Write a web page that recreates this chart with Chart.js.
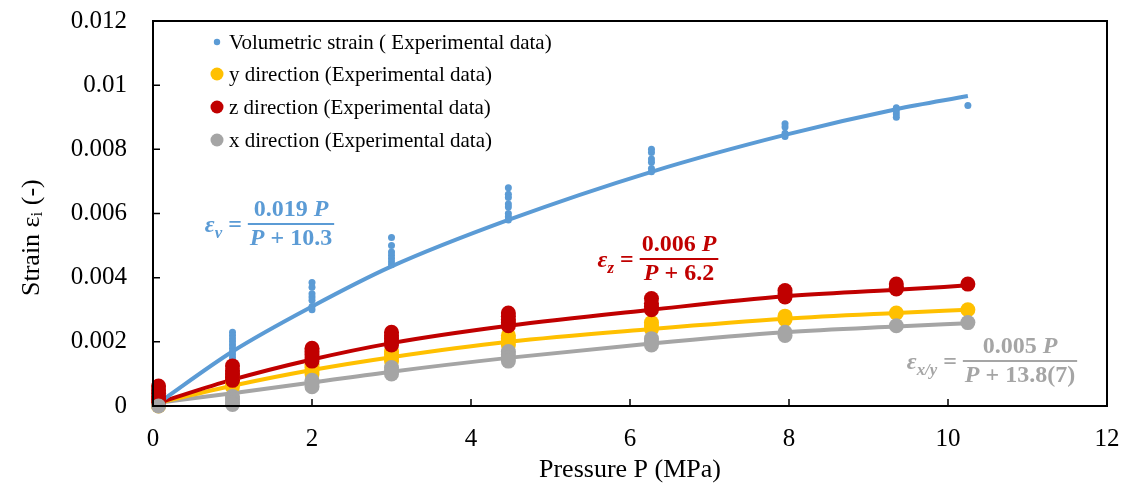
<!DOCTYPE html>
<html><head><meta charset="utf-8">
<script src="https://cdn.jsdelivr.net/npm/chart.js@4.4.1/dist/chart.umd.min.js"></script>
<style>html,body{margin:0;padding:0;background:#fff;}#wrap{width:1128px;height:490px;}</style>
</head><body><div id="wrap"><canvas id="c" width="1128" height="490"></canvas></div>
<script>
// ---- data ----
const xTicks = [0, 2, 4, 6, 8, 10, 12];
const yTicks = [0, 0.002, 0.004, 0.006, 0.008, 0.01, 0.012];

const seriesNames = ['Volumetric strain ( Experimental data)', 'y direction (Experimental data)', 'z direction (Experimental data)', 'x direction (Experimental data)'];
const seriesColors = ['#5B9BD5', '#FFC000', '#C00000', '#A5A5A5'];

const volP = [0.07, 1,1,1,1,1,1,1,1,1, 2,2,2,2,2,2,2, 3,3,3,3,3,3,3, 4.47,4.47,4.47,4.47,4.47,4.47,4.47,4.47, 6.27,6.27,6.27,6.27,6.27,6.27, 7.95,7.95,7.95,7.95, 9.35,9.35,9.35,9.35, 10.25];
const volStrain = [0.0001, 0.0023,0.0022,0.0021,0.002,0.0019,0.0018,0.0017,0.0016,0.0015, 0.00385,0.0037,0.0035,0.0034,0.0033,0.0031,0.003, 0.00525,0.005,0.0048,0.0047,0.0046,0.0045,0.0044, 0.0068,0.0066,0.0065,0.0063,0.0062,0.006,0.0059,0.0058, 0.008,0.0079,0.0077,0.0076,0.0074,0.0073, 0.0088,0.0087,0.0085,0.0084, 0.0093,0.0092,0.0091,0.009, 0.00937];

const yP = [0.07,0.07, 1,1,1,1, 2,2,2,2, 3,3,3,3, 4.47,4.47,4.47,4.47, 6.27,6.27,6.27, 7.95,7.95, 9.35, 10.25];
const yStrain = [0.0001,0, 0.0009,0.0008,0.0007,0.0006, 0.0013,0.0012,0.0011,0.001, 0.0017,0.0016,0.0015,0.0014, 0.0022,0.0021,0.002,0.0019, 0.0026,0.0025,0.0024, 0.0028,0.0027, 0.0029, 0.003];

const zP = [0.07,0.07,0.07,0.07,0.07,0.07, 1,1,1,1,1, 2,2,2,2,2, 3,3,3,3,3, 4.47,4.47,4.47,4.47,4.47, 6.27,6.27,6.27,6.27, 7.95,7.95,7.95, 9.35,9.35,9.35, 10.25];
const zStrain = [0.00062,0.0005,0.0004,0.0003,0.0002,0.0001, 0.00125,0.0011,0.001,0.0009,0.0008, 0.0018,0.0017,0.0016,0.0015,0.0014, 0.0023,0.0022,0.0021,0.002,0.0019, 0.0029,0.0028,0.0027,0.0026,0.0025, 0.00335,0.0032,0.0031,0.003, 0.0036,0.0035,0.0034, 0.0038,0.0037,0.00365, 0.0038];

const xP = [0.07, 1,1,1,1, 2,2,2, 3,3,3, 4.47,4.47,4.47,4.47, 6.27,6.27,6.27, 7.95,7.95, 9.35, 10.25];
const xStrain = [0, 0.0003,0.0002,0.0001,0.00005, 0.0008,0.0007,0.0006, 0.0012,0.0011,0.001, 0.0017,0.0016,0.0015,0.0014, 0.0021,0.002,0.0019, 0.0023,0.0022, 0.0025, 0.0026];

// fitted curves, values
const fitP = [0.07, 1, 2, 3, 4.47, 6.27, 7.95, 9.35, 10.25];
const fitVol = [0.0001, 0.0017, 0.0031, 0.00435, 0.0058, 0.0073, 0.00845, 0.00925, 0.00966];
const fitY = [0.0001, 0.00063, 0.00112, 0.00152, 0.002, 0.0024, 0.00272, 0.0029, 0.003];
const fitZ = [0.0001, 0.00082, 0.00145, 0.00196, 0.0025, 0.003, 0.00342, 0.00362, 0.00376];
const fitX = [0.0001, 0.0004, 0.00073, 0.00107, 0.0015, 0.00195, 0.0023, 0.00248, 0.00258];

// ---- helpers ----
const pts = (xs, ys) => xs.map((x, i) => ({x: x, y: ys[i]}));
const SERIF = "'Liberation Serif', 'Times New Roman', serif";

function scatterSet(i, xs, ys, r, order) {
  return {type: 'scatter', label: seriesNames[i], data: pts(xs, ys), backgroundColor: seriesColors[i],
    borderWidth: 0, pointRadius: r, pointHoverRadius: r, order: order, clip: false, markerR: r};
}
function lineSet(i, ys, order) {
  return {type: 'line', label: 'fit ' + i, data: pts(fitP, ys), borderColor: seriesColors[i], borderWidth: 4,
    pointRadius: 0, showLine: true, fill: false, cubicInterpolationMode: 'monotone', order: order, clip: false};
}

const datasets = [
  scatterSet(3, xP, xStrain, 7.5, 0),
  scatterSet(2, zP, zStrain, 7.5, 1),
  scatterSet(1, yP, yStrain, 7.5, 2),
  scatterSet(0, volP, volStrain, 3.5, 3),
  lineSet(0, fitVol, 4),
  lineSet(2, fitZ, 5),
  lineSet(1, fitY, 6),
  lineSet(3, fitX, 7)
];

function runWidth(ctx, runs, size) {
  let w = 0;
  runs.forEach(r => { ctx.font = (r.it ? 'italic ' : '') + 'bold ' + (r.sub ? size * 0.7 : size) + 'px ' + SERIF; w += ctx.measureText(r.t).width; });
  return w;
}
function drawRuns(ctx, runs, x, y, size) {
  ctx.textBaseline = 'middle'; ctx.textAlign = 'left';
  runs.forEach(r => {
    ctx.font = (r.it ? 'italic ' : '') + 'bold ' + (r.sub ? size * 0.7 : size) + 'px ' + SERIF;
    ctx.fillText(r.t, x, r.sub ? y + size * 0.3 : y);
    x += ctx.measureText(r.t).width;
  });
}
function drawEq(ctx, cx, cy, lhs, num, den, color, size) {
  ctx.save();
  ctx.fillStyle = color; ctx.strokeStyle = color;
  const wn = runWidth(ctx, num, size), wd = runWidth(ctx, den, size);
  const w = Math.max(wn, wd) + 4;
  ctx.lineWidth = 2;
  ctx.beginPath(); ctx.moveTo(cx - w / 2, cy); ctx.lineTo(cx + w / 2, cy); ctx.stroke();
  drawRuns(ctx, num, cx - wn / 2, cy - size * 0.6, size);
  drawRuns(ctx, den, cx - wd / 2, cy + size * 0.62, size);
  const wl = runWidth(ctx, lhs, size);
  drawRuns(ctx, lhs, cx - w / 2 - 6 - wl, cy + 2, size);
  ctx.restore();
}

const decor = {
  id: 'decor',
  afterDatasetsDraw(chart) {
    const {ctx, chartArea: a, scales: {x, y}} = chart;
    ctx.save();
    ctx.strokeStyle = '#000'; ctx.lineWidth = 2;
    ctx.strokeRect(a.left, a.top, a.right - a.left, a.bottom - a.top);
    ctx.lineWidth = 1.5;
    ctx.beginPath();
    xTicks.forEach(v => { const p = x.getPixelForValue(v); ctx.moveTo(p, a.bottom); ctx.lineTo(p, a.bottom - 7); });
    yTicks.forEach(v => { const p = y.getPixelForValue(v); ctx.moveTo(a.left, p); ctx.lineTo(a.left + 7, p); });
    ctx.stroke();

    const order = [3, 2, 1, 0];
    const rowY = [42, 74, 107, 140];
    order.forEach((di, k) => {
      const ds = chart.data.datasets[di];
      ctx.fillStyle = ds.backgroundColor;
      ctx.beginPath(); ctx.arc(217, rowY[k], ds.markerR < 5 ? 3.2 : 6.5, 0, Math.PI * 2); ctx.fill();
      ctx.fillStyle = '#000'; ctx.font = '21px ' + SERIF; ctx.textBaseline = 'middle'; ctx.textAlign = 'left';
      ctx.fillText(ds.label, 229, rowY[k] + 1);
    });

    drawEq(ctx, 291, 224, [{t: 'ε', it: true}, {t: 'v', it: true, sub: true}, {t: ' ='}],
      [{t: '0.019 '}, {t: 'P', it: true}], [{t: 'P', it: true}, {t: ' + 10.3'}], '#5B9BD5', 24);
    drawEq(ctx, 679, 259, [{t: 'ε', it: true}, {t: 'z', it: true, sub: true}, {t: ' ='}],
      [{t: '0.006 '}, {t: 'P', it: true}], [{t: 'P', it: true}, {t: ' + 6.2'}], '#C00000', 24);
    drawEq(ctx, 1020, 361, [{t: 'ε', it: true}, {t: 'x/y', it: true, sub: true}, {t: ' ='}],
      [{t: '0.005 '}, {t: 'P', it: true}], [{t: 'P', it: true}, {t: ' + 13.8(7)'}], '#A5A5A5', 24);

    ctx.save();
    ctx.translate(32, 296);
    ctx.rotate(-Math.PI / 2);
    ctx.fillStyle = '#000'; ctx.textBaseline = 'middle'; ctx.textAlign = 'left';
    ctx.font = '26px ' + SERIF;
    let px = 0;
    ctx.fillText('Strain ε', px, 0); px += ctx.measureText('Strain ε').width;
    ctx.font = '17px ' + SERIF;
    ctx.fillText('i', px, 6); px += ctx.measureText('i').width;
    ctx.font = '26px ' + SERIF;
    ctx.fillText(' (-)', px, 0);
    ctx.restore();
    ctx.restore();
  }
};

function zeroPad(s) { s.paddingTop = 0; s.paddingBottom = 0; s.paddingLeft = 0; s.paddingRight = 0; }

new Chart(document.getElementById('c'), {
  type: 'scatter',
  data: {datasets: datasets},
  options: {
    responsive: false, animation: false,
    layout: {padding: {top: 21, right: 21, left: 0, bottom: 0}},
    plugins: {legend: {display: false}, tooltip: {enabled: false}},
    scales: {
      x: {
        type: 'linear', min: 0, max: 12,
        afterBuildTicks: s => { s.ticks = xTicks.map(v => ({value: v})); },
        afterFit: s => { s.height = 84; zeroPad(s); },
        grid: {display: false, drawTicks: false}, border: {display: false},
        ticks: {padding: 18, color: '#000', font: {family: SERIF, size: 25}},
        title: {display: true, text: 'Pressure P (MPa)', color: '#000', font: {family: SERIF, size: 26}, padding: {top: 0, bottom: 4}}
      },
      y: {
        type: 'linear', min: 0, max: 0.012,
        afterBuildTicks: s => { s.ticks = yTicks.map(v => ({value: v})); },
        afterFit: s => { s.width = 153; zeroPad(s); },
        grid: {display: false, drawTicks: false}, border: {display: false},
        ticks: {padding: 26, color: '#000', font: {family: SERIF, size: 25},
          callback: v => String(Number(v.toFixed(3)))}
      }
    }
  },
  plugins: [decor]
});
</script></body></html>
